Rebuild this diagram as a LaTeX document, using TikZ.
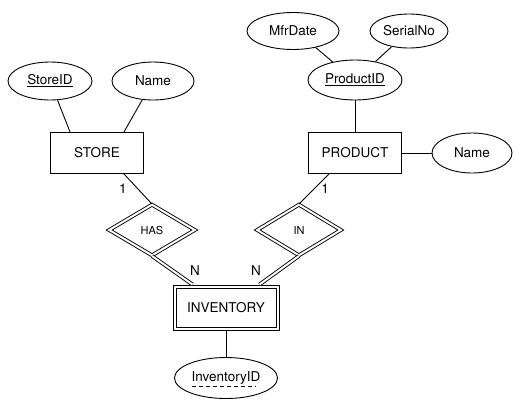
\documentclass[tikz,border=0pt]{standalone}
\usepackage{fontspec}
\setmainfont{TeX Gyre Heros}
\usetikzlibrary{shapes.geometric}

\tikzset{
  entity/.style={draw, rectangle, minimum width=93pt, minimum height=41pt, inner sep=0pt},
  weakentity/.style={draw, rectangle, minimum width=106pt, minimum height=45pt, inner sep=0pt},
  attr/.style={draw, ellipse, inner sep=0pt},
  relship/.style={draw, diamond, double, double distance=2pt, inner sep=0pt, font=\fontsize{11}{13}\selectfont},
  dbl/.style={double, double distance=2pt},
}

\begin{document}
\begin{tikzpicture}[x=1pt, y=-1pt, line width=0.9pt, font=\fontsize{13.5}{16}\selectfont]
  \useasboundingbox (0,0) rectangle (514,400);

  % Entities
  \node[entity] (store) at (97,153) {STORE};
  \node[entity] (product) at (355,153) {PRODUCT};
  \node[weakentity] (inv) at (226,307.5) {INVENTORY};
  \draw ([xshift=3.5pt, yshift=-3.5pt]inv.north west) rectangle ([xshift=-3.5pt, yshift=3.5pt]inv.south east);

  % Relationships
  \node[relship, minimum width=86pt, minimum height=51pt] (has) at (152,230) {HAS};
  \node[relship, minimum width=84pt, minimum height=51pt] (in) at (299,230) {IN};

  % Attributes
  \node[attr, minimum width=84pt, minimum height=38pt] (sid) at (50,81) {\underline{StoreID}};
  \node[attr, minimum width=82pt, minimum height=38pt] (sname) at (153,81) {Name};
  \node[attr, minimum width=92pt, minimum height=37pt] (mfr) at (293,31) {MfrDate};
  \node[attr, minimum width=78pt, minimum height=34pt] (serial) at (409,31) {SerialNo};
  \node[attr, minimum width=94pt, minimum height=40pt] (pid) at (355,80) {\underline{ProductID}};
  \node[attr, minimum width=80pt, minimum height=40pt] (pname) at (472,153) {Name};
  \node[attr, minimum width=103pt, minimum height=41pt] (iid) at (226,378) {InventoryID};
  % partial key: dashed underline
  \draw[line width=0.6pt, dash pattern=on 4pt off 3pt]
    ([xshift=-34pt, yshift=-4.5pt]iid.base) -- ([xshift=30pt, yshift=-4.5pt]iid.base);

  % Attribute links
  \draw (sid) -- ([xshift=20pt]store.north west);
  \draw (sname) -- ([xshift=-20pt]store.north east);
  \draw (mfr.-36) -- (pid.141);
  \draw (serial.222) -- (pid.42);
  \draw (pid) -- (product);
  \draw (product) -- (pname);
  \draw (inv) -- (iid);

  % Relationship links
  \draw ([xshift=-20pt]store.south east) -- (has.north);
  \draw ([xshift=21pt]product.south west) -- (in.north);
  \draw[dbl] (has.south) -- ([xshift=20pt]inv.north west);
  \draw[dbl] (in.south) -- ([xshift=-20pt]inv.north east);

  % Cardinalities
  \node (one-s) at (123,189) {1};
  \node (one-p) at (325,189) {1};
  \node (n-has) at (195,271) {N};
  \node (n-in) at (256,271) {N};
\end{tikzpicture}
\end{document}
